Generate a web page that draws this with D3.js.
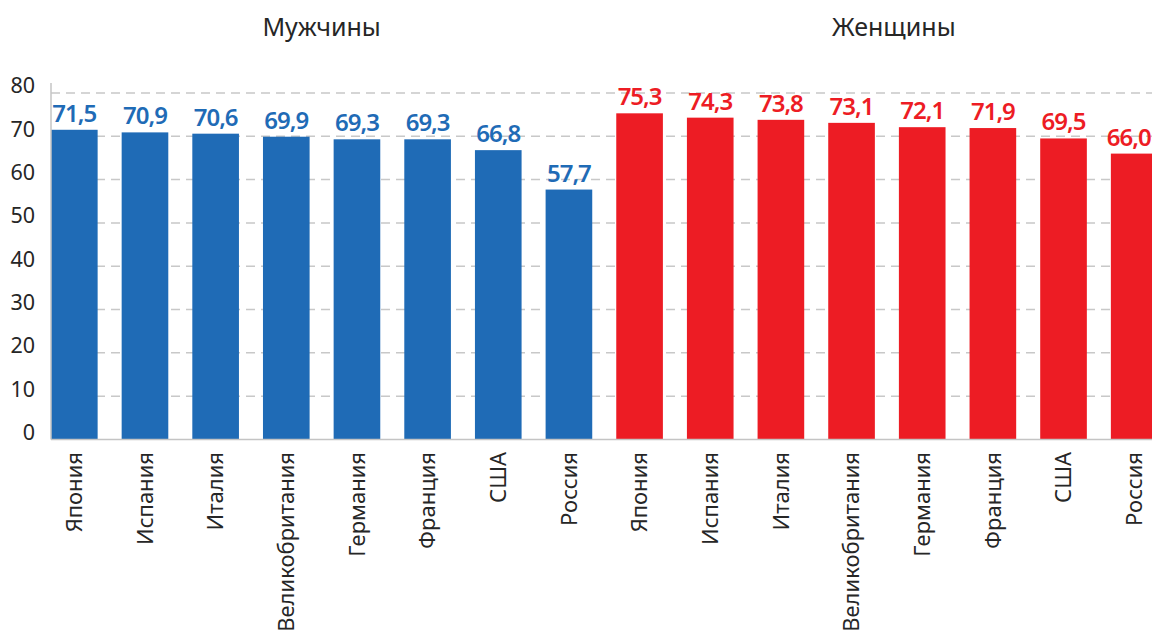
<!DOCTYPE html>
<html>
<head>
<meta charset="utf-8">
<script src="https://cdn.jsdelivr.net/npm/d3@7"></script>
<style>
  html, body { margin: 0; padding: 0; background: #fff; }
  svg { display: block; font-family: "Noto Sans", "Open Sans", sans-serif; }
</style>
</head>
<body>
<svg id="chart" width="1152" height="632"></svg>
<script>
// chart data
const countries = ['Япония', 'Испания', 'Италия', 'Великобритания', 'Германия', 'Франция', 'США', 'Россия'];
const menValues = [71.5, 70.9, 70.6, 69.9, 69.3, 69.3, 66.8, 57.7];
const womenValues = [75.3, 74.3, 73.8, 73.1, 72.1, 71.9, 69.5, 66.0];
const groupTitles = ['Мужчины', 'Женщины'];
const yTicks = [0, 10, 20, 30, 40, 50, 60, 70, 80];

const colors = { men: '#1f6bb6', women: '#ed1c24' };

const rows = [];
countries.forEach(function (c, i) { rows.push({ key: 'm' + i, name: c, value: menValues[i], group: 0 }); });
countries.forEach(function (c, i) { rows.push({ key: 'w' + i, name: c, value: womenValues[i], group: 1 }); });

const svg = d3.select('#chart');
const W = 1152;

const x = d3.scaleBand()
  .domain(rows.map(d => d.key))
  .range([51, 1157.5])
  .paddingInner(0.34)
  .paddingOuter(0);

const y = d3.scaleLinear().domain([0, 82.3]).range([439.5, 83]);

// gridlines
svg.append('g')
  .selectAll('line')
  .data(yTicks.filter(t => t > 0))
  .enter()
  .append('line')
  .attr('x1', 51).attr('x2', W)
  .attr('y1', d => y(d)).attr('y2', d => y(d))
  .attr('stroke', '#c8c8c8')
  .attr('stroke-width', 1.5)
  .attr('stroke-dasharray', '9,6');

// y tick labels (sit a bit above their gridline, like the original)
svg.append('g')
  .selectAll('text')
  .data(yTicks)
  .enter()
  .append('text')
  .attr('x', 35)
  .attr('y', d => y(d) - 7)
  .attr('dy', '0.35em')
  .attr('text-anchor', 'end')
  .attr('font-size', 21.5)
  .attr('fill', '#262626')
  .text(d => d);

// bars
svg.append('g')
  .selectAll('rect')
  .data(rows)
  .enter()
  .append('rect')
  .attr('x', d => x(d.key))
  .attr('y', d => y(d.value))
  .attr('width', x.bandwidth())
  .attr('height', d => y(0) - y(d.value))
  .attr('fill', d => d.group ? colors.women : colors.men);

// axes lines
svg.append('line')
  .attr('x1', 51).attr('x2', 51)
  .attr('y1', y.range()[1]).attr('y2', y(0))
  .attr('stroke', '#c4c4c4').attr('stroke-width', 1.5);
svg.append('line')
  .attr('x1', 51).attr('x2', W)
  .attr('y1', y(0)).attr('y2', y(0))
  .attr('stroke', '#c4c4c4').attr('stroke-width', 1.5);

// value labels
svg.append('g')
  .selectAll('text')
  .data(rows)
  .enter()
  .append('text')
  .attr('x', d => x(d.key) + x.bandwidth() / 2)
  .attr('y', d => y(d.value) - 8)
  .attr('text-anchor', 'middle')
  .attr('font-size', 24)
  .attr('font-weight', 600)
  .attr('letter-spacing', '-1px')
  .attr('fill', d => d.group ? colors.women : colors.men)
  .text(d => d.value.toFixed(1).replace('.', ','))
  .each(function () {
    // keep the last label inside the picture
    const b = this.getBBox();
    const over = b.x + b.width - (W - 1);
    if (over > 0) d3.select(this).attr('x', +d3.select(this).attr('x') - over);
  });

// category labels, rotated
svg.append('g')
  .selectAll('text')
  .data(rows)
  .enter()
  .append('text')
  .attr('transform', d => 'translate(' + (x(d.key) + x.bandwidth() / 2) + ',452) rotate(-90)')
  .attr('dy', '0.35em')
  .attr('text-anchor', 'end')
  .attr('font-size', 22)
  .attr('fill', '#262626')
  .text(d => d.name);

// group titles
groupTitles.forEach(function (t, g) {
  const keys = rows.filter(d => d.group === g).map(d => d.key);
  const cx = (x(keys[0]) + x(keys[keys.length - 1]) + x.bandwidth()) / 2;
  svg.append('text')
    .attr('x', cx + g * 7)
    .attr('y', 36)
    .attr('text-anchor', 'middle')
    .attr('font-size', 25)
    .attr('fill', '#262626')
    .text(t);
});
</script>
</body>
</html>
